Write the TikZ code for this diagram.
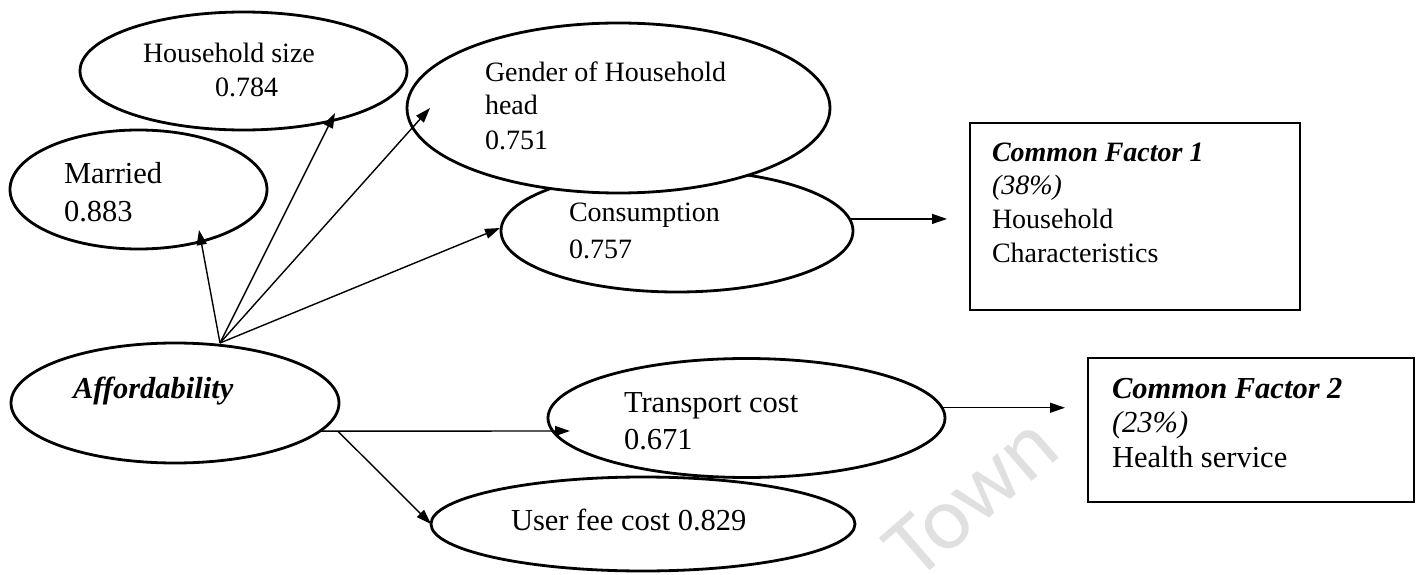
\documentclass[tikz,border=0pt]{standalone}
\usepackage{fontspec}
\setmainfont{Liberation Serif}
\newfontfamily\wmfont{Carlito}
\usetikzlibrary{arrows.meta,shapes.geometric}

\tikzset{
  oval/.style={ellipse, draw=black, line width=2.8pt, fill=white,
               inner sep=0pt, outer sep=0pt},
  factorbox/.style={rectangle, draw=black, line width=2.8pt,
                    inner sep=0pt, outer sep=0pt},
  lbl/.style={anchor=base west, inner sep=0pt, outer sep=0pt, text=black},
  mid/.style={lbl, font=\fontsize{28}{34}\selectfont},
  large/.style={lbl, font=\fontsize{30.5}{36}\selectfont},
  arr/.style={line width=1.4pt, draw=black,
              -{Triangle[length=15pt,width=10pt]}},
  wm/.style={font=\wmfont\fontsize{90}{90}\selectfont, text=black!12,
             rotate=41, inner sep=0pt}
}

\begin{document}
\begin{tikzpicture}[x=1pt, y=-1pt]
\useasboundingbox (0,0) rectangle (1417,575);
\fill[white] (0,0) rectangle (1417,575);

% background watermark
\node[wm] (wm) at (971,497) {Town};

% variable ellipses
\node[oval, minimum width=327pt, minimum height=118pt] (hs)  at (243.5,71)  {};
\node[oval, minimum width=257pt, minimum height=119pt] (mar) at (138.5,189.5) {};
\node[oval, minimum width=352pt, minimum height=122pt] (con) at (677,231)   {};
\node[oval, minimum width=423pt, minimum height=170pt] (gen) at (618.5,108) {};
\node[oval, minimum width=328pt, minimum height=120pt] (aff) at (175,403)   {};
\node[oval, minimum width=397pt, minimum height=119pt] (tra) at (746.5,418) {};
\node[oval, minimum width=424pt, minimum height=94pt]  (uf)  at (643,524)   {};

% factor boxes
\node[factorbox, minimum width=330pt, minimum height=187pt] (b1) at (1135,216.5) {};
\node[factorbox, minimum width=326pt, minimum height=144pt] (b2) at (1251,430) {};

% labels
\node[mid]   (hs1) at (143,63) {Household size};
\node[mid]   (hs2) at (215,97) {0.784};
\node[large] (mar1) at (64,184) {Married};
\node[large] (mar2) at (64,221) {0.883};
\node[mid] (gen1) at (485,82)  {Gender of Household};
\node[mid] (gen2) at (485,115) {head};
\node[mid] (gen3) at (485,150) {0.751};
\node[mid] (con1) at (569,222) {Consumption};
\node[mid] (con2) at (569,258) {0.757};
\node[large] (aff1) at (73,398) {\bfseries\itshape Affordability};
\node[large] (tra1) at (624,412) {Transport cost};
\node[large] (tra2) at (624,449) {0.671};
\node[large] (uf1)  at (511,530) {User fee cost 0.829};

\node[mid] (f1a) at (992,161) {\bfseries\itshape Common Factor 1};
\node[mid] (f1b) at (992,194) {\itshape (38\%)};
\node[mid] (f1c) at (992,228) {Household};
\node[mid] (f1d) at (992,262) {Characteristics};

\node[large] (f2a) at (1112,398) {\bfseries\itshape Common Factor 2};
\node[large] (f2b) at (1112,432) {\itshape (23\%)};
\node[large] (f2c) at (1112,467) {Health service};

% connector end points
\coordinate (hub) at ([xshift=45pt]aff.north);
\coordinate (split) at ([xshift=18pt]aff.-11);
\coordinate (t1) at ([xshift=-23pt]b1.west);
\coordinate (t2) at ([xshift=-23pt]b2.west);

% connectors
\draw[arr] (hub) -- ([shift={(60.5,40.5)}]mar.center);
\draw[arr] (hub) -- ([shift={(91.5,42)}]hs.center);
\draw[arr] (hub) -- ([xshift=23pt]gen.west);
\draw[arr] (hub) -- ([shift={(-177,-3)}]con.center);
\draw[arr] (aff.-11) -- ([shift={(-176.5,13)}]tra.center);
\draw[arr] (split) -- (uf.west);
\draw[arr] (con.4) -- (con.4 -| t1);
\draw[arr] (tra.3) -- (tra.3 -| t2);
\end{tikzpicture}
\end{document}
